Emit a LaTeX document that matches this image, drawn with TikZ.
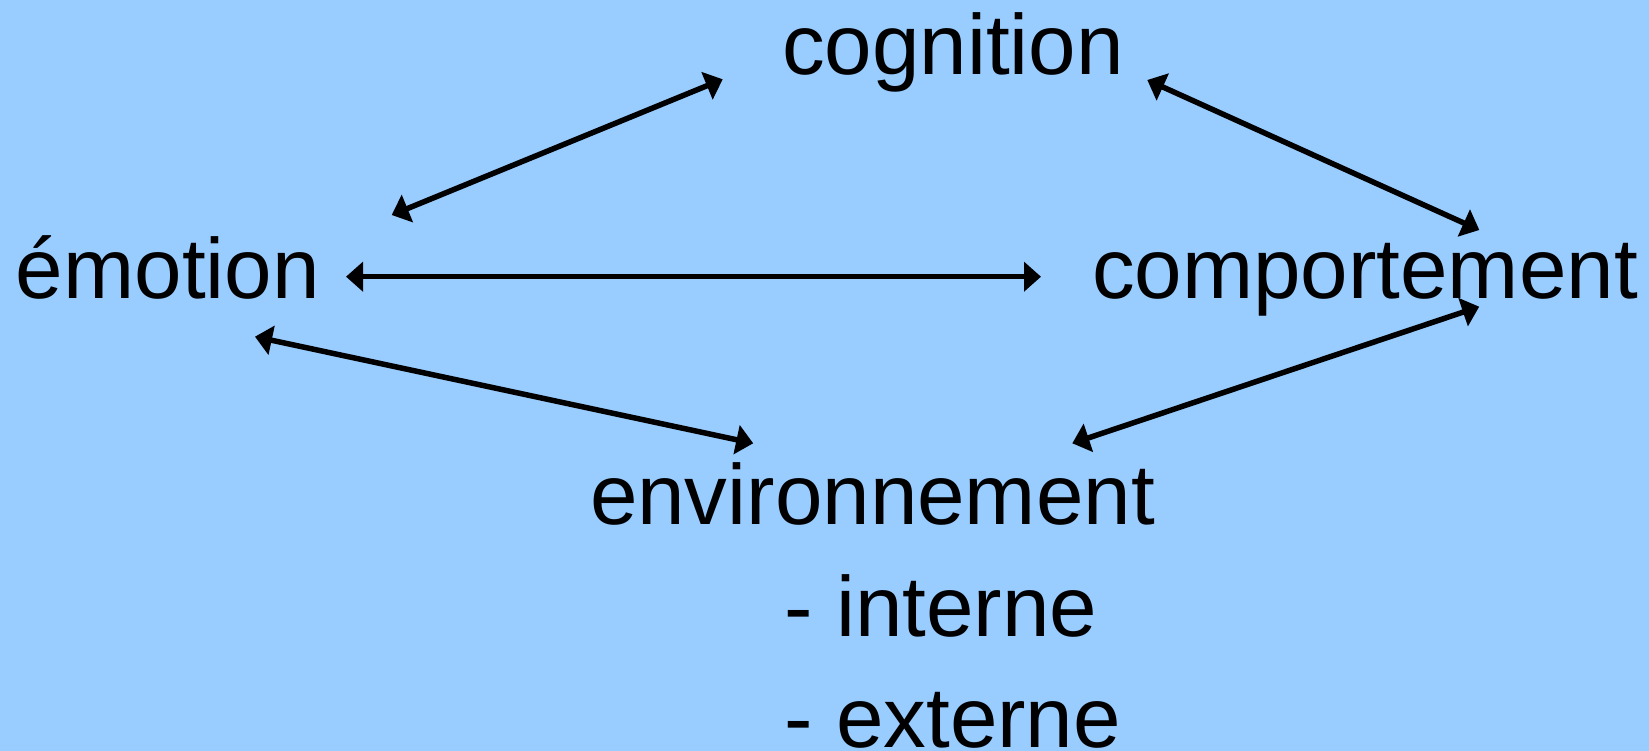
\documentclass[tikz,border=0pt]{standalone}
\usepackage{fontspec}
\setmainfont{Liberation Sans}
\usetikzlibrary{arrows.meta}
\definecolor{bgblue}{RGB}{153,204,255}
\tikzset{
  lbl/.style={anchor=base west, inner sep=0pt, outer sep=0pt, font=\fontsize{85.4}{100}\selectfont, text=black},
  link/.style={line width=5.5pt, {Triangle[length=17pt,width=29pt]}-{Triangle[length=17pt,width=29pt]}}
}
\begin{document}
\begin{tikzpicture}[x=1pt,y=-1pt]
\fill[bgblue] (0,0) rectangle (1649,751);
\useasboundingbox (0,0) rectangle (1649,751);
\node[lbl] (cog) at (782,74.7) {cognition};
\node[lbl] (emo) at (16,299) {émotion};
\node[lbl] (comp) at (1092,299) {comportement};
\node[lbl] (env) at (590,524) {environnement};
\node[lbl] (int) at (784,636) {- interne};
\node[lbl] (ext) at (784,747) {- externe};
\coordinate (emoA) at (391.7,215);
\coordinate (cogA) at (722.7,79.3);
\coordinate (emoB) at (346,276.7);
\coordinate (compB) at (1041,276.7);
\coordinate (cogC) at (1147.3,80);
\coordinate (compC) at (1479.3,230);
\coordinate (emoD) at (255,336.7);
\coordinate (envD) at (753.2,443.3);
\coordinate (compE) at (1479.2,306.7);
\coordinate (envE) at (1072.3,443.3);
\draw[link] (emoA) -- (cogA);
\draw[link] (emoB) -- (compB);
\draw[link] (cogC) -- (compC);
\draw[link] (emoD) -- (envD);
\draw[link] (compE) -- (envE);
\end{tikzpicture}
\end{document}
